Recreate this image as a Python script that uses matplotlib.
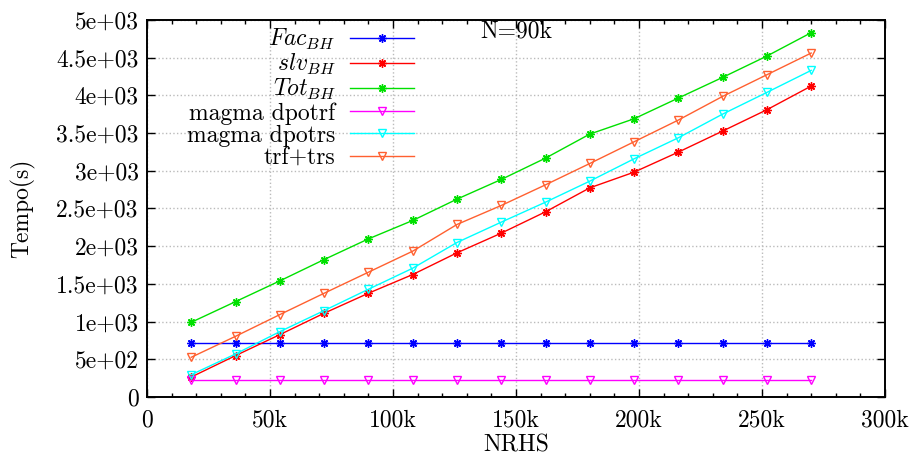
import numpy as np
import matplotlib.pyplot as plt

plt.rcParams['font.family'] = ['cmr10', 'DejaVu Serif']
plt.rcParams['mathtext.fontset'] = 'cm'
plt.rcParams['axes.formatter.use_mathtext'] = True

# NRHS (thousands) and timings in seconds, N=90k
nrhs = [18, 36, 54, 72, 90, 108, 126, 144, 162, 180, 198, 216, 234, 252, 270]
fac_bh = [717] * 15
slv_bh = [265, 549, 827, 1111, 1376, 1624, 1912, 2173, 2456, 2774, 2982, 3248, 3527, 3810, 4124]
tot_bh = [991, 1265, 1540, 1823, 2097, 2341, 2624, 2885, 3168, 3487, 3690, 3965, 4239, 4522, 4832]
dpotrf = [232] * 15
dpotrs = [296, 571, 867, 1146, 1429, 1708, 2049, 2319, 2584, 2863, 3159, 3438, 3752, 4040, 4332]
trf_trs = [527, 805, 1093, 1376, 1655, 1934, 2288, 2540, 2814, 3097, 3385, 3673, 3987, 4274, 4562]

xticks = [0, 50, 100, 150, 200, 250, 300]
xtick_labels = ['0', '50k', '100k', '150k', '200k', '250k', '300k']
yticks = [0, 500, 1000, 1500, 2000, 2500, 3000, 3500, 4000, 4500, 5000]
ytick_labels = ['0', '5e+02', '1e+03', '1.5e+03', '2e+03', '2.5e+03',
                '3e+03', '3.5e+03', '4e+03', '4.5e+03', '5e+03']

fs = 17
fig = plt.figure(figsize=(9.09, 4.59), dpi=100)
ax = fig.add_axes([147 / 909, 62 / 459, 738 / 909, 377 / 459])

star = (8, 2, 0)
x = np.array(nrhs)
ax.plot(x, fac_bh, color='#0000ff', marker=star, ms=6, lw=1.0, label=r'$Fac_{BH}$')
ax.plot(x, slv_bh, color='#ff0000', marker=star, ms=6, lw=1.0, label=r'$slv_{BH}$')
ax.plot(x, tot_bh, color='#00e000', marker=star, ms=6, lw=1.0, label=r'$Tot_{BH}$')
ax.plot(x, dpotrf, color='#ff00ff', marker='v', mfc='none', ms=6, lw=1.0, label='magma dpotrf')
ax.plot(x, dpotrs, color='#00ffff', marker='v', mfc='none', ms=6, lw=1.0, label='magma dpotrs')
ax.plot(x, trf_trs, color='#ff6030', marker='v', mfc='none', ms=6, lw=1.0, label='trf+trs')

ax.set_xlim(0, 300)
ax.set_ylim(0, 5000)
ax.set_xticks(xticks)
ax.set_xticklabels(xtick_labels)
ax.set_xticks(np.arange(0, 301, 10), minor=True)
ax.set_yticks(yticks)
ax.set_yticklabels(ytick_labels)
ax.tick_params(which='both', direction='in', top=True, right=True, labelsize=fs)
ax.tick_params(which='major', length=6, width=1)
ax.tick_params(which='minor', length=3, width=1)
ax.tick_params(axis='x', pad=9)
ax.tick_params(axis='y', pad=6)
ax.grid(True, which='major', color='#bbbbbb', linestyle=':', lw=1)
for s in ax.spines.values():
    s.set_linewidth(1.4)

ax.set_xlabel('NRHS', fontsize=fs, labelpad=2)
ax.set_ylabel('Tempo(s)', fontsize=fs, labelpad=15)
ax.text(150, 4850, 'N=90k', fontsize=fs, ha='center', va='center')

# key sits left of the centre, text right-aligned before the sample line
leg = ax.legend(loc='upper right', bbox_to_anchor=(414 / 909, 1 - 27 / 459),
                bbox_transform=fig.transFigure, frameon=False, markerfirst=False,
                fontsize=fs, handlelength=2.7, handletextpad=0.63, labelspacing=0.0,
                borderaxespad=0.0, borderpad=0.0)
for t in leg.get_texts():
    t.set_ha('right')

fig.savefig('out.png', dpi=100)
